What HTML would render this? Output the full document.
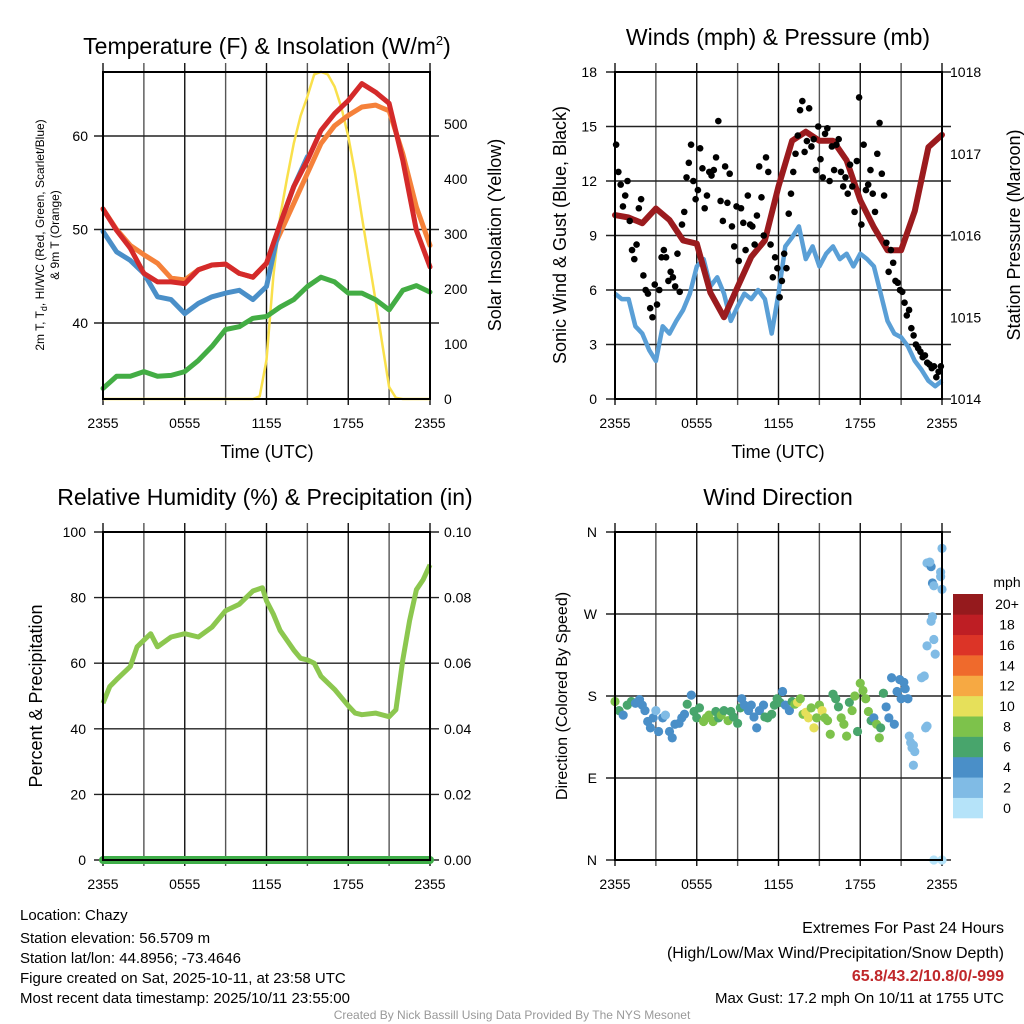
<!DOCTYPE html>
<html><head><meta charset="utf-8">
<style>
html,body{margin:0;padding:0;background:#fff;}
svg{display:block;font-family:"Liberation Sans",Arial,sans-serif;}
</style></head>
<body>
<svg id="fig" width="1024" height="1024" viewBox="0 0 1024 1024" xmlns="http://www.w3.org/2000/svg">
  <g id="grids"></g>
  <g id="marks"></g>
  <g id="frames"></g>
  <g id="texts">
    <text x="267" y="54" font-size="23" text-anchor="middle">Temperature (F) &amp; Insolation (W/m<tspan font-size="13" dy="-9">2</tspan><tspan dy="9">)</tspan></text>
    <text x="778" y="45" font-size="23" text-anchor="middle">Winds (mph) &amp; Pressure (mb)</text>
    <text x="265" y="505" font-size="23" text-anchor="middle">Relative Humidity (%) &amp; Precipitation (in)</text>
    <text x="778" y="505" font-size="23" text-anchor="middle">Wind Direction</text>

    <text transform="translate(44,235) rotate(-90)" font-size="12" text-anchor="middle">2m T, T<tspan font-size="9" dy="3">d</tspan><tspan dy="-3">, HI/WC (Red, Green, Scarlet/Blue)</tspan></text>
    <text transform="translate(59,235) rotate(-90)" font-size="12" text-anchor="middle">&amp; 9m T (Orange)</text>
    <text transform="translate(501,235) rotate(-90)" font-size="18" text-anchor="middle">Solar Insolation (Yellow)</text>
    <text transform="translate(566,235) rotate(-90)" font-size="18" text-anchor="middle">Sonic Wind &amp; Gust (Blue, Black)</text>
    <text transform="translate(1020,235) rotate(-90)" font-size="18" text-anchor="middle">Station Pressure (Maroon)</text>
    <text transform="translate(42,696) rotate(-90)" font-size="18" text-anchor="middle">Percent &amp; Precipitation</text>
    <text transform="translate(567,696) rotate(-90)" font-size="16" text-anchor="middle">Direction (Colored By Speed)</text>

    <text x="267" y="458" font-size="18" text-anchor="middle">Time (UTC)</text>
    <text x="778" y="458" font-size="18" text-anchor="middle">Time (UTC)</text>

    <text x="20" y="920" font-size="15">Location: Chazy</text>
    <text x="20" y="943" font-size="15">Station elevation: 56.5709 m</text>
    <text x="20" y="963" font-size="15">Station lat/lon: 44.8956; -73.4646</text>
    <text x="20" y="983" font-size="15">Figure created on Sat, 2025-10-11, at 23:58 UTC</text>
    <text x="20" y="1003" font-size="15">Most recent data timestamp: 2025/10/11 23:55:00</text>
    <text x="1004" y="933" font-size="16" text-anchor="end">Extremes For Past 24 Hours</text>
    <text x="1004" y="958" font-size="16" text-anchor="end">(High/Low/Max Wind/Precipitation/Snow Depth)</text>
    <text x="1004" y="981" font-size="16" font-weight="bold" fill="#c0282b" text-anchor="end">65.8/43.2/10.8/0/-999</text>
    <text x="1004" y="1003" font-size="15" text-anchor="end">Max Gust: 17.2 mph On 10/11 at 1755 UTC</text>
    <text x="512" y="1019" font-size="12" fill="#999" text-anchor="middle">Created By Nick Bassill Using Data Provided By The NYS Mesonet</text>
    <text x="1007" y="587" font-size="14" text-anchor="middle">mph</text>
  </g>
</svg>
<script>
// ---------- DATA ----------
const xTickLabels = ["2355","0555","1155","1755","2355"];
const tempTicks = [40,50,60];
const solarTicks = [0,100,200,300,400,500];
const windTicks = [0,3,6,9,12,15,18];
const presTicks = [1014,1015,1016,1017,1018];
const rhTicks = [0,20,40,60,80,100];
const precipTickLabels = ["0.00","0.02","0.04","0.06","0.08","0.10"];
const dirTickLabels = ["N","E","S","W","N"];

// hourly, t = 0..24
const temp2m = [52.2,49.9,48.0,45.3,44.4,44.4,44.2,45.7,46.2,46.3,45.3,44.9,46.4,50.6,54.6,57.4,60.6,62.4,63.8,65.6,64.7,63.5,57.4,49.9,46.0];
const temp9m = [52.2,50.0,48.3,47.3,46.4,44.8,44.6,45.7,46.2,46.3,45.3,44.9,46.4,49.6,52.8,56.0,59.2,61.1,62.2,63.1,63.3,62.7,58.1,52.4,48.3];
const heatWind = [49.8,47.6,46.7,45.3,42.8,42.5,41.0,42.1,42.8,43.2,43.5,42.5,43.9,50.6,54.6,57.8,null,null,null,null,null,null,null,null,null];
const dewpoint = [33.0,34.3,34.3,34.8,34.3,34.4,34.8,36.0,37.5,39.3,39.6,40.5,40.7,41.7,42.5,43.9,44.9,44.4,43.2,43.2,42.5,41.4,43.5,44.0,43.3];
// half-hourly, t = 0..24
const solar = [0,0,0,0,0,0,0,0,0,0,0,0,0,0,0,0,0,0,0,0,0,0,0,5,71,222,331,400,465,515,550,590,595,590,568,530,477,410,331,255,180,100,22,2,0,0,0,0,0];
const sonicWind = [5.8,5.5,5.5,4.0,3.6,2.7,2.1,4.0,3.6,4.3,4.9,5.8,7.3,7.7,6.2,6.7,5.8,4.3,5.1,5.8,5.5,6.0,5.5,3.6,5.8,8.4,8.9,9.5,7.7,8.4,7.3,8.0,8.4,7.7,8.0,7.3,8.0,7.7,7.3,5.8,4.3,3.6,3.4,2.9,2.1,1.6,1.0,0.7,1.0];
const pressure = [1016.25,1016.22,1016.15,1016.33,1016.19,1015.94,1015.90,1015.30,1015.00,1015.37,1015.74,1015.94,1016.60,1017.16,1017.27,1017.16,1017.16,1016.92,1016.43,1016.10,1015.82,1015.82,1016.30,1017.08,1017.23];
const gusts = [14,12.5,11.8,10.6,11.2,12, 9.8,8.2,7.7,8.5,10.5,11, 6.8,6,5.8,5,4.5,6.3, 5.2,6,7.8,8.2,7.8,6.5, 7,6.7,6.2,8,5.9,9.6, 10.3,12.2,13,14,12,11, 11.5,13.8,12.7,10.5,11.2,12.5, 12.3,12.6,13.3,15.3,10.9,9.8, 12.8,10.8,12.4,9.5,8.4,10.6, 7.6,10.5,9.7,8.2,11.2,9.6, 9.5,8.5,10.1,12.8,11.1,9.0, 13.3,12.5,8.5,6.7,7.8,7.2, 5.6,6.5,8.0,7.2,10.2,11.3, 12.5,13.5,14.5,15.9,16.4,13.6, 14.2,16.0,13.9,14.3,12.6,15.0, 13.2,12.2,14.6,14.9,12.0,13.9, 12.6,14.0,14.3,12.5,11.7,12.2, 11.3,12.9,11.7,10.3,13.1,16.6, 9.6,14.0,11.5,11.8,12.6,11.3, 10.3,13.5,15.2,12.4,11.2,8.6, 7.0,8.2,7.5,6.5,6.4,6.0, 5.9,5.3,4.6,4.9,3.9,3.5, 3.0,2.8,2.6,2.3,2.4,2.0, 1.9,1.7,1.8,1.2,1.5,1.8];
const rhTime = [0,0.5,1,2,2.5,3,3.5,4,5,6,7,8,9,10,11,11.7,12,12.5,13,14,14.5,15,15.5,16,17,18,18.5,19,20,21,21.5,22,22.5,23,23.5,24];
const rh = [47.8,52.9,55,59,65,67,69,65,68,69,68,71,76,78,82,83,79,75,70,64,61.5,61,60,56,52,47,44.8,44.3,44.8,43.7,45.8,61,73,82.4,85.5,90];
const precip = [0,0,0,0,0,0,0,0,0,0,0,0,0,0,0,0,0,0,0,0,0,0,0,0,0];
const dirTime = [0,0.3,0.6,0.9,1.2,1.5,1.8,2.0,2.2,2.4,2.6,2.8,3.0,3.2,3.5,3.7,4.0,4.2,4.4,4.7,4.9,5.1,5.3,5.6,5.8,6.0,6.2,6.5,6.7,6.9,7.2,7.4,7.6,7.8,8.0,8.3,8.5,8.7,9.0,9.2,9.3,9.5,9.8,10.0,10.2,10.4,10.6,10.9,11.0,11.2,11.5,11.7,11.9,12.1,12.3,12.5,12.8,13.0,13.2,13.4,13.6,13.8,14.0,14.2,14.4,14.6,14.8,15.0,15.2,15.4,15.6,15.8,16.0,16.2,16.4,16.6,16.8,17.0,17.2,17.4,17.6,17.8,18.0,18.2,18.4,18.6,18.8,19.0,19.2,19.4,19.5,19.7,19.9,20.1,20.3,20.5,20.7,20.9,21.0,21.2,21.3,21.5,21.6,21.7,21.8,21.9,22.0,21.9,22.5,22.7,22.8,22.9,22.9,23.3,23.4,23.5,23.2,22.9,23.2,23.3,23.4,23.9,23.9,24.0,24.0,23.1,23.4,24.0];
const dirDeg = [174,164,159,170,174,172,176,170,164,152,145,156,164,141,156,159,141,134,149,150,156,160,171,181,163,156,167,152,156,159,152,163,156,159,164,153,163,157,150,167,177,170,164,170,157,145,164,170,157,156,160,170,177,173,185,170,164,174,171,173,177,160,162,156,167,145,156,170,164,156,153,138,182,177,168,156,149,136,173,164,180,141,194,186,177,163,153,156,149,134,145,183,168,156,200,149,185,198,177,195,188,177,136,129,123,126,119,104,200,202,145,147,235,267,242,226,262,326,322,304,301,311,316,297,342,327,0,0];
const dirSpeed = [8,6,4,6,6,4,4,4,4,4,4,3,2,4,3,2,4,4,4,4,4,4,6,4,6,6,6,8,8,8,8,6,6,8,6,8,6,6,6,6,4,4,4,4,4,4,4,4,6,6,6,6,6,6,4,4,4,6,8,10,8,8,10,10,8,10,8,8,10,8,8,8,6,6,6,8,8,8,6,8,8,6,8,8,8,8,6,4,8,8,6,6,4,4,4,4,4,4,4,4,4,3,2,2,2,2,2,2,2,1,2,2,1,1,1,1,1,1,3,3,1,1,1,1,1,1,0,0];
const cbLabels = ["0","2","4","6","8","10","12","14","16","18","20+"];
const cbColors = ["#b5e3f9","#80bbe5","#4a8fc8","#48a56c","#7dc24b","#e6e05a","#f6a943","#ef6a2c","#dc3427","#be1e24","#951a1d"];

// ---------- HELPERS ----------
const NS = "http://www.w3.org/2000/svg";
const G = document.getElementById('grids'), M = document.getElementById('marks'), F = document.getElementById('frames'), T = document.getElementById('texts');
function mk(tag, attrs, parent){ const e=document.createElementNS(NS,tag); for(const k in attrs) e.setAttribute(k,attrs[k]); parent.appendChild(e); return e; }
function scale(d0,d1,r0,r1){ return v => r0 + (v-d0)*(r1-r0)/(d1-d0); }
function pathFrom(xs, ys, fx, fy){ let d="", pen=false; for(let i=0;i<xs.length;i++){ if(ys[i]===null){pen=false;continue;} d+=(pen?"L":"M")+fx(xs[i]).toFixed(1)+","+fy(ys[i]).toFixed(1); pen=true; } return d; }
function idxTimes(n){ return Array.from({length:n},(_,i)=>i*24/(n-1)); }

const panels = {
  p1:{x0:103,x1:430,y0:72,y1:399},
  p2:{x0:615,x1:942,y0:72,y1:399},
  p3:{x0:103,x1:430,y0:532,y1:860},
  p4:{x0:615,x1:942,y0:532,y1:860}
};
function drawGrid(p, name, hVals, fy){
  const fx = scale(0,24,p.x0,p.x1);
  for(let h=0; h<=24; h+=3){
    const l = mk('line',{x1:fx(h),x2:fx(h),y1:p.y0-9,y2:p.y1+6,stroke:(h%6===0)?'#111':'#555','stroke-width':1.4},G);
    
    
  }
  hVals.forEach(v=>{
    const l = mk('line',{x1:p.x0-9,x2:p.x1+9,y1:fy(v),y2:fy(v),stroke:'#222','stroke-width':1.4},G);
    
    
  });
  const r = mk('rect',{x:p.x0,y:p.y0,width:p.x1-p.x0,height:p.y1-p.y0,fill:'none',stroke:'#000','stroke-width':2},F);
  
  
  xTickLabels.forEach((s,i)=>{
    const t = mk('text',{x:fx(i*6),y:p.y1+29,'font-size':14,'text-anchor':'middle'},T); t.textContent=s;
    
    
  });
}
function yLabels(vals, labels, fy, x, anchor, name){
  vals.forEach((v,i)=>{
    const t = mk('text',{x:x,y:fy(v)+5,'font-size':14,'text-anchor':anchor},T); t.textContent=labels[i];
    
    
  });
}

// ---------- PANEL 1 ----------
(function(){
  const p=panels.p1, fx=scale(0,24,p.x0,p.x1), fy=scale(40,60,323,136), fs=scale(0,500,399,124);
  drawGrid(p,'temperature',tempTicks,fy);
  yLabels(tempTicks,tempTicks.map(String),fy,88,'end','temperature-y-tick-label');
  yLabels(solarTicks,solarTicks.map(String),fs,444,'start','solar-y-tick-label');
  const ht=idxTimes(25), st=idxTimes(solar.length);
  const sl=mk('path',{d:pathFrom(st,solar,fx,fs),fill:'none',stroke:'#f9e04b','stroke-width':2.5},M);
   
  const series=[[dewpoint,'#43ad44','dewpoint-line'],[temp9m,'#f5813a','temp-9m-line'],[heatWind,'#4a8fc8','heat-index-wind-chill-line'],[temp2m,'#d42a2a','temp-2m-line']];
  series.forEach(s=>{
    const l=mk('path',{d:pathFrom(ht,s[0],fx,fy),fill:'none',stroke:s[1],'stroke-width':5,'stroke-linejoin':'round','stroke-linecap':'round'},M);
     
  });
})();

// ---------- PANEL 2 ----------
(function(){
  const p=panels.p2, fx=scale(0,24,p.x0,p.x1), fy=scale(0,18,399,72), fp=scale(1014,1018,399,72);
  drawGrid(p,'winds',windTicks,fy);
  yLabels(windTicks,windTicks.map(String),fy,597,'end','wind-y-tick-label');
  yLabels(presTicks,presTicks.map(String),fp,950,'start','pressure-y-tick-label');
  const wl=mk('path',{d:pathFrom(idxTimes(sonicWind.length),sonicWind,fx,fy),fill:'none',stroke:'#5a9fd6','stroke-width':4.5,'stroke-linejoin':'round'},M);
   
  const pl=mk('path',{d:pathFrom(idxTimes(pressure.length),pressure,fx,fp),fill:'none',stroke:'#9b1b1e','stroke-width':6,'stroke-linejoin':'round','stroke-linecap':'round'},M);
   
  gusts.forEach((g,i)=>{
    const c=mk('circle',{cx:fx((i+0.5)*24/gusts.length),cy:fy(g),r:3.3,fill:'#000'},M);
     
  });
})();

// ---------- PANEL 3 ----------
(function(){
  const p=panels.p3, fx=scale(0,24,p.x0,p.x1), fy=scale(0,100,860,532), fq=scale(0,0.1,860,532);
  drawGrid(p,'humidity',rhTicks,fy);
  yLabels(rhTicks,rhTicks.map(String),fy,86,'end','humidity-y-tick-label');
  yLabels(rhTicks,precipTickLabels,fy,444,'start','precip-y-tick-label');
  const rl=mk('path',{d:pathFrom(rhTime,rh,fx,fy),fill:'none',stroke:'#8cc74f','stroke-width':5,'stroke-linejoin':'round'},M);
   
  const ql=mk('path',{d:pathFrom(idxTimes(precip.length),precip,fx,fq),fill:'none',stroke:'#3fae49','stroke-width':8,'stroke-linecap':'round'},M);
   
})();

// ---------- PANEL 4 ----------
(function(){
  const p=panels.p4, fx=scale(0,24,p.x0,p.x1), fy=scale(0,360,860,532);
  const dv=[0,90,180,270,360];
  drawGrid(p,'wind-direction',dv,fy);
  yLabels(dv,dirTickLabels,fy,597,'end','direction-y-tick-label');
  dirDeg.forEach((d,i)=>{
    const ci=Math.max(0,Math.min(10,Math.round(dirSpeed[i]/2)));
    const c=mk('circle',{cx:fx(dirTime[i]),cy:fy(d),r:4.6,fill:cbColors[ci]},M);
     
  });
  const bx=953,bw=30,by1=818,bh=(818-594)/cbLabels.length;
  cbLabels.forEach((lab,i)=>{
    const r=mk('rect',{x:bx,y:by1-(i+1)*bh,width:bw,height:bh+0.3,fill:cbColors[i]},M);
     
    const t=mk('text',{x:1007,y:by1-(i+0.5)*bh+5,'font-size':14,'text-anchor':'middle'},T); t.textContent=lab;
     
  });
})();
</script>
</body></html>
